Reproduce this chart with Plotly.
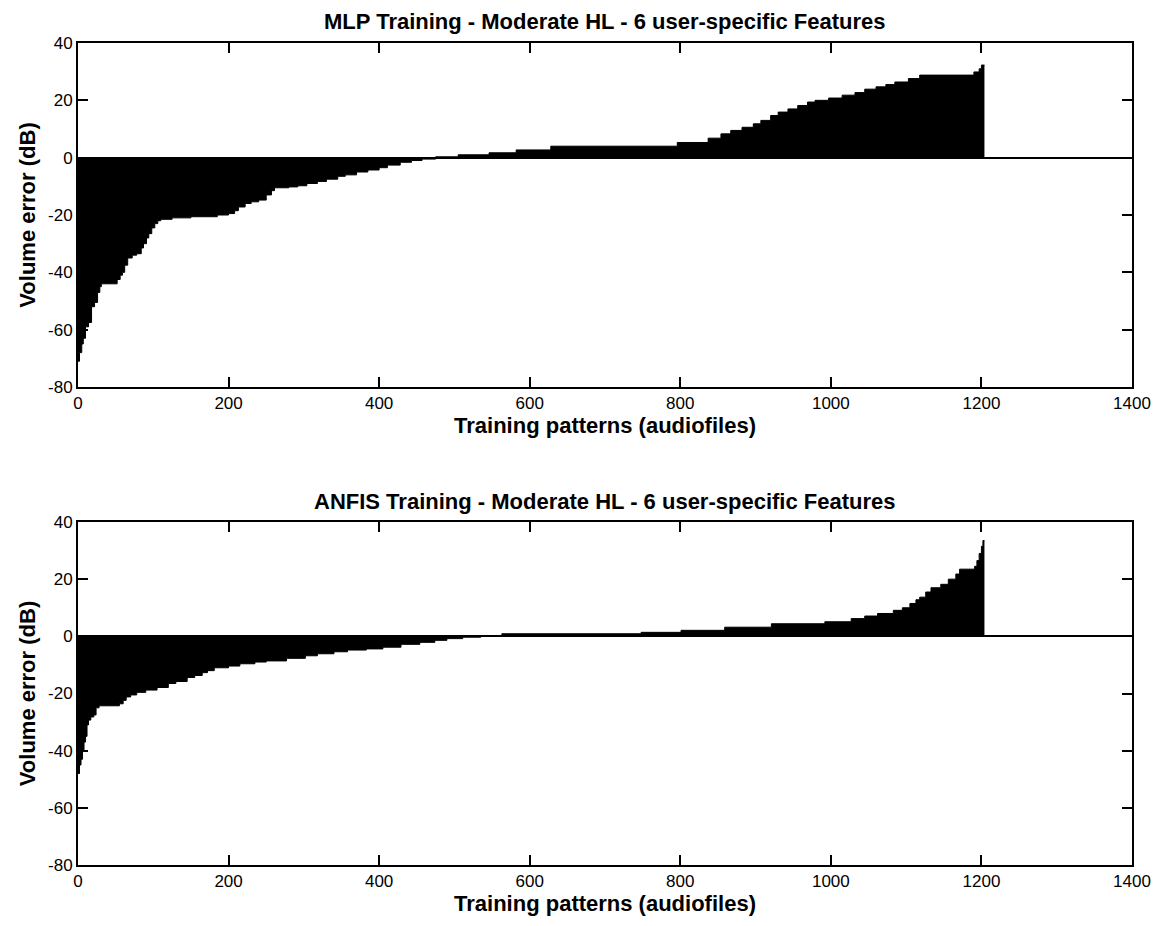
import plotly.graph_objects as go
from plotly.subplots import make_subplots

# ---------------- data ----------------
n_patterns = 1204

# MLP: sorted volume error, step start index and value (dB)
mlp_start = [0, 2, 5, 7, 10, 14, 18, 22, 26, 29, 31, 52, 56, 59, 62, 66, 72, 78, 84, 87,
             91, 94, 98, 102, 106, 110, 125, 150, 185, 200, 208, 213, 222, 230, 240, 250,
             257, 261, 280, 292, 304, 318, 330, 345, 355, 370, 385, 400, 411, 428, 443,
             457, 475, 505, 546, 582, 628, 796, 837, 854, 867, 882, 897, 907, 920, 930,
             943, 956, 969, 979, 997, 1015, 1032, 1045, 1060, 1073, 1085, 1103, 1118,
             1190, 1197, 1200]
mlp_err = [-71, -68, -65, -63, -59, -57.5, -52, -50.5, -47, -45, -44, -42.5, -41, -40,
           -37.5, -35, -34, -33.5, -31.5, -30, -28, -26.5, -24.5, -23, -22, -21.5, -21,
           -20.6, -20, -19.5, -18.5, -17.2, -16, -15.4, -14.8, -13, -11.5, -10.5, -10.2,
           -9.8, -9, -8.3, -7.5, -6.5, -6, -5, -4.3, -3.5, -2.6, -1.6, -1, -0.5, 0.3, 1.0,
           1.7, 2.7, 4.0, 5.3, 6.8, 8.3, 9.5, 10.6, 11.8, 13, 14.7, 15.9, 17, 18.2, 19.4,
           20, 20.8, 21.8, 22.7, 23.9, 24.7, 25.5, 26.4, 27.6, 28.8, 29.9, 31, 32.3]

# ANFIS: sorted volume error, step start index and value (dB)
anfis_start = [0, 2, 4, 6, 8, 10, 12, 14, 17, 21, 24, 28, 55, 60, 64, 70, 78, 90, 105,
               120, 130, 145, 155, 165, 172, 181, 200, 215, 235, 250, 277, 302, 318, 340,
               358, 383, 405, 429, 454, 474, 490, 511, 535, 563, 748, 801, 859, 921, 992,
               1027, 1045, 1062, 1083, 1095, 1105, 1113, 1118, 1126, 1133, 1146, 1156,
               1166, 1171, 1191, 1194, 1197, 1200, 1202]
anfis_err = [-48, -45, -43, -40, -37, -35, -31, -29.3, -28.2, -27.5, -25, -24.3, -23.6,
             -22.4, -21.2, -20.5, -19.6, -18.8, -17.9, -16.5, -15.8, -14.4, -13.7, -12.7,
             -12, -11, -10.4, -9.6, -9, -8.6, -7.7, -6.8, -6.1, -5.4, -4.8, -4.4, -3.8,
             -2.8, -2.1, -1.4, -0.8, -0.3, 0.2, 0.9, 1.4, 2.1, 3.2, 4.4, 5.1, 6.2, 7.1, 8,
             9.1, 10, 11.5, 12.8, 13.7, 15.5, 17, 18.2, 20, 21.8, 23.5, 24.5, 26.5, 29,
             31.5, 33.5]

titles = ["MLP Training - Moderate HL - 6 user-specific Features",
          "ANFIS Training - Moderate HL - 6 user-specific Features"]
x_label = "Training patterns (audiofiles)"
y_label = "Volume error (dB)"
x_ticks = [0, 200, 400, 600, 800, 1000, 1200, 1400]
x_ticktext = ["0", "200", "400", "600", "800", "1000", "1200", "1400"]
y_ticks = [-80, -60, -40, -20, 0, 20, 40]
y_ticktext = ["-80", "-60", "-40", "-20", "0", "20", "40"]

# ---------------- figure ----------------
W, H = 1163, 926
L, R, T, B = 78, 1163 - 1137, 43, 926 - 865
ph = H - T - B


def fy(py):
    return (H - B - py) / ph


fig = make_subplots(rows=2, cols=1)
fig.update_layout(
    yaxis=dict(domain=[fy(387), 1.0]),
    yaxis2=dict(domain=[0.0, fy(522)]),
)

series = [(mlp_start, mlp_err), (anfis_start, anfis_err)]
for i, (xs, ys) in enumerate(series, start=1):
    fig.add_trace(go.Scatter(
        x=list(xs) + [n_patterns], y=list(ys) + [ys[-1]],
        mode="lines", line=dict(shape="hv", color="black", width=1),
        fill="tozeroy", fillcolor="black", showlegend=False, hoverinfo="skip"),
        row=i, col=1)

tick_font = dict(family="Liberation Sans, Arial, sans-serif", size=17, color="black")
lab_font = dict(family="Liberation Sans, Arial, sans-serif", size=22, color="black")
title_font = dict(family="Liberation Sans, Arial, sans-serif", size=22, color="black")

for i in (1, 2):
    fig.update_xaxes(row=i, col=1, range=[0, 1400], tickvals=x_ticks, ticktext=x_ticktext,
                     ticks="inside", ticklen=10, tickwidth=1.5, tickcolor="black",
                     showline=True, linecolor="black", linewidth=2, mirror="ticks",
                     showgrid=False, zeroline=False, tickfont=tick_font,
                     title=dict(text="<b>" + x_label + "</b>", font=lab_font, standoff=3))
    fig.update_yaxes(row=i, col=1, range=[-80, 40], tickvals=y_ticks, ticktext=y_ticktext,
                     ticks="inside", ticklen=10, tickwidth=1.5, tickcolor="black",
                     showline=True, linecolor="black", linewidth=2, mirror="ticks",
                     showgrid=False, zeroline=True, zerolinecolor="black", zerolinewidth=1.5,
                     tickfont=tick_font,
                     title=dict(text="<b>" + y_label + "</b>", font=lab_font, standoff=6))

for txt, py in zip(titles, [22, 501]):
    fig.add_annotation(text="<b>" + txt + "</b>", xref="paper", yref="paper",
                       x=0.5, y=fy(py), xanchor="center", yanchor="middle",
                       showarrow=False, font=title_font)

fig.update_layout(width=W, height=H, margin=dict(l=L, r=R, t=T, b=B, pad=0),
                  paper_bgcolor="white", plot_bgcolor="white")

fig.write_html("out.html")
